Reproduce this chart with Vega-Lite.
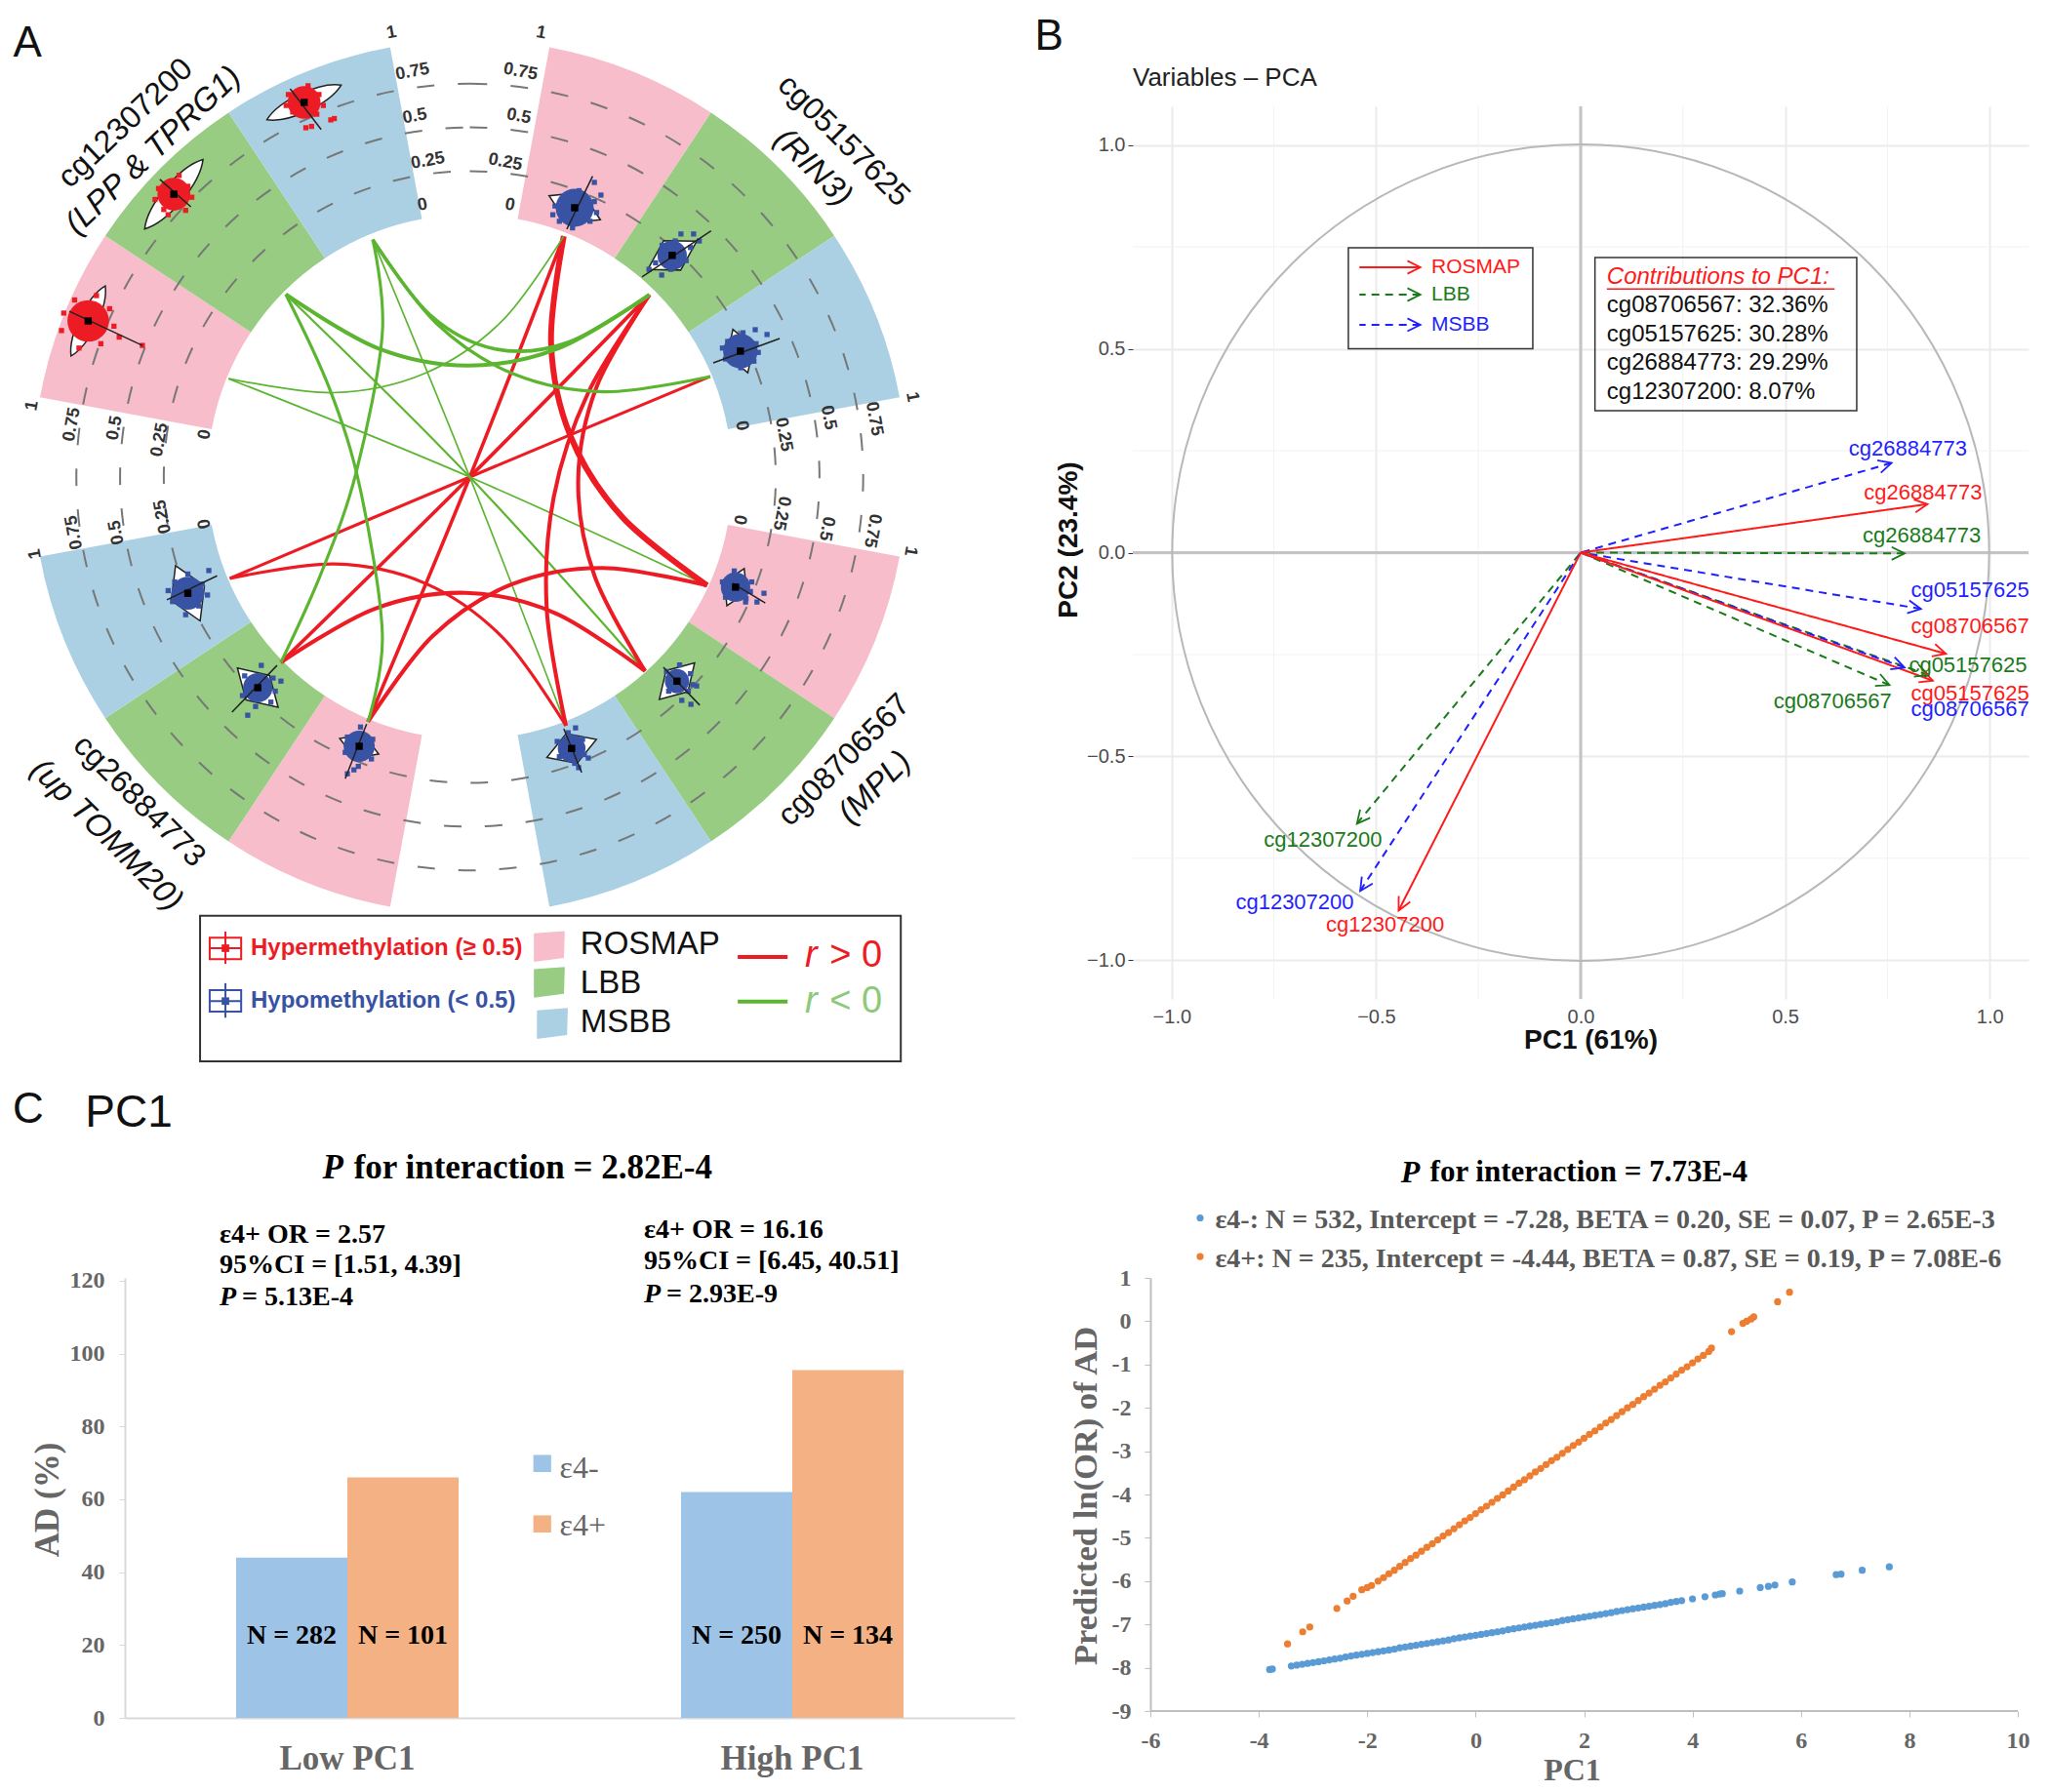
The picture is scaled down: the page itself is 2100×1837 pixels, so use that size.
{"$schema":"https://vega.github.io/schema/vega-lite/v6.json","background":"white","padding":{"left":13,"top":15,"right":0,"bottom":0},"bounds":"flush","align":"none","columns":2,"spacing":{"row":286,"column":121},"resolve":{"scale":{"color":"independent","size":"independent","strokeDash":"independent","strokeWidth":"independent"}},"config":{"view":{"stroke":null},"text":{"font":"Liberation Sans"}},
"datasets":{"clouds":[
{"g":"D-R","meth":"Hyper","x":-0.873,"y":0.357,"spread":48,"len":80,"bearing":26},
{"g":"D-L","meth":"Hyper","x":-0.677,"y":0.647,"spread":38,"len":93,"bearing":40},
{"g":"D-M","meth":"Hyper","x":-0.379,"y":0.857,"spread":38,"len":84,"bearing":65},
{"g":"A-R","meth":"Hypo","x":0.24,"y":0.616,"spread":44,"len":58,"bearing":115},
{"g":"A-L","meth":"Hypo","x":0.463,"y":0.507,"spread":34,"len":58,"bearing":60},
{"g":"A-M","meth":"Hypo","x":0.619,"y":0.288,"spread":40,"len":47,"bearing":161},
{"g":"B-R","meth":"Hypo","x":0.608,"y":-0.252,"spread":34,"len":42,"bearing":25},
{"g":"B-L","meth":"Hypo","x":0.474,"y":-0.467,"spread":28,"len":52,"bearing":44},
{"g":"B-M","meth":"Hypo","x":0.233,"y":-0.621,"spread":32,"len":54,"bearing":70},
{"g":"C-R","meth":"Hypo","x":-0.253,"y":-0.616,"spread":36,"len":43,"bearing":112},
{"g":"C-L","meth":"Hypo","x":-0.485,"y":-0.482,"spread":34,"len":58,"bearing":134},
{"g":"C-M","meth":"Hypo","x":-0.645,"y":-0.266,"spread":38,"len":62,"bearing":156}
]},
"concat":[
{"width":894,"height":915,
"encoding":{"x":{"field":"x","type":"quantitative","scale":{"domain":[-0.789,1.2065],"nice":false,"zero":false},"axis":null},"y":{"field":"y","type":"quantitative","scale":{"domain":[-1.194,0.848],"nice":false,"zero":false},"axis":null}},
"resolve":{"scale":{"color":"independent","size":"independent"}},
"layer":[
{"data":{"values":[
{"x":0,"y":0,"cohort":"ROSMAP","a0":10.5,"a1":33.5},{"x":0,"y":0,"cohort":"LBB","a0":33.5,"a1":56.5},{"x":0,"y":0,"cohort":"MSBB","a0":56.5,"a1":79.5},
{"x":0,"y":0,"cohort":"ROSMAP","a0":100.5,"a1":123.5},{"x":0,"y":0,"cohort":"LBB","a0":123.5,"a1":146.5},{"x":0,"y":0,"cohort":"MSBB","a0":146.5,"a1":169.5},
{"x":0,"y":0,"cohort":"ROSMAP","a0":190.5,"a1":213.5},{"x":0,"y":0,"cohort":"LBB","a0":213.5,"a1":236.5},{"x":0,"y":0,"cohort":"MSBB","a0":236.5,"a1":259.5},
{"x":0,"y":0,"cohort":"ROSMAP","a0":280.5,"a1":303.5},{"x":0,"y":0,"cohort":"LBB","a0":303.5,"a1":326.5},{"x":0,"y":0,"cohort":"MSBB","a0":326.5,"a1":349.5}]},
"mark":{"type":"arc","radius":448,"radius2":269},
"encoding":{"theta":{"field":"a0","type":"quantitative","scale":{"domain":[0,360],"range":[0,6.283185]}},"theta2":{"field":"a1"},"color":{"field":"cohort","type":"nominal","scale":{"domain":["ROSMAP","LBB","MSBB"],"range":["#F7BDCB","#97CC82","#ABD0E4"]},"legend":null}}},
{"data":{"values":[{"x":0,"y":0,"t":0.25}]},"mark":{"type":"arc","radius":313.6,"theta":0,"theta2":6.2832,"fill":"transparent","stroke":"#777777","strokeWidth":2,"strokeDash":[18,24]}},
{"data":{"values":[{"x":0,"y":0,"t":0.5}]},"mark":{"type":"arc","radius":358.4,"theta":0,"theta2":6.2832,"fill":"transparent","stroke":"#777777","strokeWidth":2,"strokeDash":[18,24]}},
{"data":{"values":[{"x":0,"y":0,"t":0.75}]},"mark":{"type":"arc","radius":403.2,"theta":0,"theta2":6.2832,"fill":"transparent","stroke":"#777777","strokeWidth":2,"strokeDash":[18,24]}},
{"data":{"name":"clouds"},"transform":[{"filter":"datum.meth == 'Hyper'"}],"mark":{"type":"point","shape":"M0 -1 C0.3 -0.55 0.3 0.55 0 1 C-0.3 0.55 -0.3 -0.55 0 -1 Z","filled":true,"fill":"white","stroke":"#222222","strokeWidth":1.5,"opacity":1},"encoding":{"size":{"field":"len","type":"quantitative","scale":{"type":"pow","exponent":2,"domain":[0,100],"range":[0,10000]},"legend":null},"angle":{"field":"bearing","type":"quantitative","scale":null}}},
{"data":{"name":"clouds"},"transform":[{"filter":"datum.meth == 'Hypo'"}],"mark":{"type":"point","shape":"M0 -1 L0.6 0 L0 1 L-0.6 0 Z","filled":true,"fill":"white","stroke":"#222222","strokeWidth":1.5,"opacity":1},"encoding":{"size":{"field":"len","type":"quantitative","scale":{"type":"pow","exponent":2,"domain":[0,100],"range":[0,10000]},"legend":null},"angle":{"field":"bearing","type":"quantitative","scale":null}}},
{"data":{"name":"clouds"},"mark":{"type":"point","shape":"circle","filled":true,"opacity":1},"encoding":{"size":{"field":"spread","type":"quantitative","scale":{"type":"pow","exponent":2,"domain":[0,50],"range":[0,1963]},"legend":null},"color":{"field":"meth","type":"nominal","scale":{"domain":["Hyper","Hypo"],"range":["#ED1C24","#3953A4"]},"legend":null}}},
{"data":{"values":[
{"meth":"Hyper","x":-0.824,"y":0.385},{"meth":"Hyper","x":-0.929,"y":0.375},{"meth":"Hyper","x":-0.844,"y":0.305},{"meth":"Hyper","x":-0.904,"y":0.405},{"meth":"Hyper","x":-0.814,"y":0.345},{"meth":"Hyper","x":-0.934,"y":0.335},{"meth":"Hyper","x":-0.854,"y":0.415},{"meth":"Hyper","x":-0.894,"y":0.295},{"meth":"Hyper","x":-0.749,"y":0.301},{"meth":"Hyper","x":-0.802,"y":0.32},
{"meth":"Hyper","x":-0.645,"y":0.665},{"meth":"Hyper","x":-0.712,"y":0.66},{"meth":"Hyper","x":-0.65,"y":0.61},{"meth":"Hyper","x":-0.7,"y":0.612},{"meth":"Hyper","x":-0.636,"y":0.64},{"meth":"Hyper","x":-0.72,"y":0.635},{"meth":"Hyper","x":-0.665,"y":0.69},{"meth":"Hyper","x":-0.69,"y":0.6},
{"meth":"Hyper","x":-0.345,"y":0.875},{"meth":"Hyper","x":-0.415,"y":0.875},{"meth":"Hyper","x":-0.35,"y":0.83},{"meth":"Hyper","x":-0.405,"y":0.835},{"meth":"Hyper","x":-0.335,"y":0.85},{"meth":"Hyper","x":-0.42,"y":0.85},{"meth":"Hyper","x":-0.37,"y":0.895},{"meth":"Hyper","x":-0.318,"y":0.817},{"meth":"Hyper","x":-0.375,"y":0.799},{"meth":"Hyper","x":-0.362,"y":0.802},{"meth":"Hyper","x":-0.31,"y":0.82},
{"meth":"Hypo","x":0.285,"y":0.63},{"meth":"Hypo","x":0.195,"y":0.62},{"meth":"Hypo","x":0.275,"y":0.585},{"meth":"Hypo","x":0.205,"y":0.585},{"meth":"Hypo","x":0.25,"y":0.655},{"meth":"Hypo","x":0.235,"y":0.57},{"meth":"Hypo","x":0.29,"y":0.605},{"meth":"Hypo","x":0.19,"y":0.6},{"meth":"Hypo","x":0.285,"y":0.674},{"meth":"Hypo","x":0.3,"y":0.645},
{"meth":"Hypo","x":0.505,"y":0.525},{"meth":"Hypo","x":0.425,"y":0.49},{"meth":"Hypo","x":0.495,"y":0.495},{"meth":"Hypo","x":0.44,"y":0.53},{"meth":"Hypo","x":0.525,"y":0.54},{"meth":"Hypo","x":0.41,"y":0.475},{"meth":"Hypo","x":0.47,"y":0.54},{"meth":"Hypo","x":0.46,"y":0.475},{"meth":"Hypo","x":0.483,"y":0.556},{"meth":"Hypo","x":0.512,"y":0.556},{"meth":"Hypo","x":0.439,"y":0.462},
{"meth":"Hypo","x":0.655,"y":0.305},{"meth":"Hypo","x":0.585,"y":0.27},{"meth":"Hypo","x":0.65,"y":0.265},{"meth":"Hypo","x":0.59,"y":0.31},{"meth":"Hypo","x":0.66,"y":0.285},{"meth":"Hypo","x":0.578,"y":0.295},{"meth":"Hypo","x":0.625,"y":0.33},{"meth":"Hypo","x":0.62,"y":0.25},{"meth":"Hypo","x":0.653,"y":0.337},{"meth":"Hypo","x":0.68,"y":0.326},
{"meth":"Hypo","x":0.642,"y":-0.262},{"meth":"Hypo","x":0.578,"y":-0.24},{"meth":"Hypo","x":0.632,"y":-0.278},{"meth":"Hypo","x":0.585,"y":-0.275},{"meth":"Hypo","x":0.645,"y":-0.24},{"meth":"Hypo","x":0.605,"y":-0.215},{"meth":"Hypo","x":0.673,"y":-0.266},{"meth":"Hypo","x":0.657,"y":-0.286},{"meth":"Hypo","x":0.631,"y":-0.286},
{"meth":"Hypo","x":0.5,"y":-0.49},{"meth":"Hypo","x":0.45,"y":-0.445},{"meth":"Hypo","x":0.505,"y":-0.45},{"meth":"Hypo","x":0.455,"y":-0.49},{"meth":"Hypo","x":0.51,"y":-0.475},{"meth":"Hypo","x":0.48,"y":-0.43},{"meth":"Hypo","x":0.519,"y":-0.478},{"meth":"Hypo","x":0.506,"y":-0.52},{"meth":"Hypo","x":0.485,"y":-0.511},
{"meth":"Hypo","x":0.262,"y":-0.635},{"meth":"Hypo","x":0.2,"y":-0.605},{"meth":"Hypo","x":0.258,"y":-0.6},{"meth":"Hypo","x":0.205,"y":-0.64},{"meth":"Hypo","x":0.24,"y":-0.655},{"meth":"Hypo","x":0.225,"y":-0.585},{"meth":"Hypo","x":0.242,"y":-0.574},{"meth":"Hypo","x":0.271,"y":-0.643},{"meth":"Hypo","x":0.249,"y":-0.665},
{"meth":"Hypo","x":-0.222,"y":-0.6},{"meth":"Hypo","x":-0.285,"y":-0.63},{"meth":"Hypo","x":-0.225,"y":-0.645},{"meth":"Hypo","x":-0.28,"y":-0.595},{"meth":"Hypo","x":-0.25,"y":-0.572},{"meth":"Hypo","x":-0.255,"y":-0.662},{"meth":"Hypo","x":-0.265,"y":-0.67},{"meth":"Hypo","x":-0.28,"y":-0.679},
{"meth":"Hypo","x":-0.45,"y":-0.46},{"meth":"Hypo","x":-0.52,"y":-0.5},{"meth":"Hypo","x":-0.455,"y":-0.515},{"meth":"Hypo","x":-0.515,"y":-0.455},{"meth":"Hypo","x":-0.445,"y":-0.49},{"meth":"Hypo","x":-0.477,"y":-0.431},{"meth":"Hypo","x":-0.49,"y":-0.525},{"meth":"Hypo","x":-0.508,"y":-0.545},{"meth":"Hypo","x":-0.432,"y":-0.467},
{"meth":"Hypo","x":-0.612,"y":-0.245},{"meth":"Hypo","x":-0.68,"y":-0.285},{"meth":"Hypo","x":-0.62,"y":-0.295},{"meth":"Hypo","x":-0.675,"y":-0.24},{"meth":"Hypo","x":-0.6,"y":-0.27},{"meth":"Hypo","x":-0.645,"y":-0.222},{"meth":"Hypo","x":-0.65,"y":-0.315},{"meth":"Hypo","x":-0.597,"y":-0.214},{"meth":"Hypo","x":-0.69,"y":-0.26}]},
"mark":{"type":"square","size":28,"opacity":1},"encoding":{"color":{"field":"meth","type":"nominal","scale":{"domain":["Hyper","Hypo"],"range":["#ED1C24","#3953A4"]},"legend":null}}},
{"data":{"values":[
{"x":-0.916,"y":0.379,"x2":-0.749,"y2":0.301},{"x":-0.709,"y":0.681,"x2":-0.638,"y2":0.618},{"x":-0.411,"y":0.888,"x2":-0.34,"y2":0.795},{"x":0.281,"y":0.688,"x2":0.222,"y2":0.567},{"x":0.394,"y":0.458,"x2":0.552,"y2":0.563},{"x":0.557,"y":0.261,"x2":0.709,"y2":0.317},{"x":0.601,"y":-0.243,"x2":0.676,"y2":-0.288},{"x":0.443,"y":-0.435,"x2":0.526,"y2":-0.522},{"x":0.215,"y":-0.576,"x2":0.256,"y2":-0.676},{"x":-0.285,"y":-0.69,"x2":-0.236,"y2":-0.565},{"x":-0.544,"y":-0.538,"x2":-0.441,"y2":-0.431},{"x":-0.693,"y":-0.281,"x2":-0.578,"y2":-0.226}]},
"mark":{"type":"rule","color":"#222222","strokeWidth":1.5},"encoding":{"x2":{"field":"x2"},"y2":{"field":"y2"}}},
{"data":{"name":"clouds"},"mark":{"type":"square","size":55,"color":"black","opacity":1}},
{"data":{"values":[
{"id":"AR-CR","o":0,"s":"pos","a":0.35,"x":0.215,"y":0.551},{"id":"AR-CR","o":1,"s":"pos","a":0.35,"x":0,"y":0},{"id":"AR-CR","o":2,"s":"pos","a":0.35,"x":-0.233,"y":-0.56},
{"id":"AL-CL","o":0,"s":"pos","a":0.35,"x":0.411,"y":0.417},{"id":"AL-CL","o":1,"s":"pos","a":0.35,"x":0,"y":0},{"id":"AL-CL","o":2,"s":"pos","a":0.35,"x":-0.432,"y":-0.424},
{"id":"AM-CM","o":0,"s":"pos","a":0.3,"x":0.55,"y":0.23},{"id":"AM-CM","o":1,"s":"pos","a":0.3,"x":0,"y":0},{"id":"AM-CM","o":2,"s":"pos","a":0.3,"x":-0.549,"y":-0.232},
{"id":"DM-BM","o":0,"s":"neg","a":0.15,"x":-0.222,"y":0.543},{"id":"DM-BM","o":1,"s":"neg","a":0.15,"x":0,"y":0},{"id":"DM-BM","o":2,"s":"neg","a":0.15,"x":0.22,"y":-0.569},
{"id":"DL-BL","o":0,"s":"neg","a":0.2,"x":-0.421,"y":0.418},{"id":"DL-BL","o":1,"s":"neg","a":0.2,"x":0,"y":0},{"id":"DL-BL","o":2,"s":"neg","a":0.2,"x":0.401,"y":-0.444},
{"id":"DR-BR","o":0,"s":"neg","a":0.15,"x":-0.552,"y":0.225},{"id":"DR-BR","o":1,"s":"neg","a":0.15,"x":0,"y":0},{"id":"DR-BR","o":2,"s":"neg","a":0.15,"x":0.543,"y":-0.248},
{"id":"AR-BR","o":0,"s":"pos","a":0.6,"x":0.215,"y":0.551},{"id":"AR-BR","o":1,"s":"pos","a":0.6,"x":0.186,"y":0.307},{"id":"AR-BR","o":2,"s":"pos","a":0.6,"x":0.231,"y":0.092},{"id":"AR-BR","o":3,"s":"pos","a":0.6,"x":0.35,"y":-0.093},{"id":"AR-BR","o":4,"s":"pos","a":0.6,"x":0.543,"y":-0.248},
{"id":"AL-BL","o":0,"s":"pos","a":0.4,"x":0.411,"y":0.417},{"id":"AL-BL","o":1,"s":"pos","a":0.4,"x":0.29,"y":0.206},{"id":"AL-BL","o":2,"s":"pos","a":0.4,"x":0.248,"y":-0.008},{"id":"AL-BL","o":3,"s":"pos","a":0.4,"x":0.285,"y":-0.225},{"id":"AL-BL","o":4,"s":"pos","a":0.4,"x":0.401,"y":-0.444},
{"id":"AL-BM","o":0,"s":"pos","a":0.4,"x":0.411,"y":0.417},{"id":"AL-BM","o":1,"s":"pos","a":0.4,"x":0.271,"y":0.193},{"id":"AL-BM","o":2,"s":"pos","a":0.4,"x":0.192,"y":-0.046},{"id":"AL-BM","o":3,"s":"pos","a":0.4,"x":0.176,"y":-0.301},{"id":"AL-BM","o":4,"s":"pos","a":0.4,"x":0.22,"y":-0.569},
{"id":"CL-BL","o":0,"s":"pos","a":0.4,"x":-0.432,"y":-0.424},{"id":"CL-BL","o":1,"s":"pos","a":0.4,"x":-0.219,"y":-0.302},{"id":"CL-BL","o":2,"s":"pos","a":0.4,"x":-0.009,"y":-0.265},{"id":"CL-BL","o":3,"s":"pos","a":0.4,"x":0.197,"y":-0.312},{"id":"CL-BL","o":4,"s":"pos","a":0.4,"x":0.401,"y":-0.444},
{"id":"CR-BR","o":0,"s":"pos","a":0.4,"x":-0.233,"y":-0.56},{"id":"CR-BR","o":1,"s":"pos","a":0.4,"x":-0.085,"y":-0.364},{"id":"CR-BR","o":2,"s":"pos","a":0.4,"x":0.095,"y":-0.246},{"id":"CR-BR","o":3,"s":"pos","a":0.4,"x":0.304,"y":-0.208},{"id":"CR-BR","o":4,"s":"pos","a":0.4,"x":0.543,"y":-0.248},
{"id":"CM-BM","o":0,"s":"pos","a":0.3,"x":-0.549,"y":-0.232},{"id":"CM-BM","o":1,"s":"pos","a":0.3,"x":-0.309,"y":-0.199},{"id":"CM-BM","o":2,"s":"pos","a":0.3,"x":-0.1,"y":-0.244},{"id":"CM-BM","o":3,"s":"pos","a":0.3,"x":0.076,"y":-0.368},{"id":"CM-BM","o":4,"s":"pos","a":0.3,"x":0.22,"y":-0.569},
{"id":"DM-AL","o":0,"s":"neg","a":0.35,"x":-0.222,"y":0.543},{"id":"DM-AL","o":1,"s":"neg","a":0.35,"x":-0.091,"y":0.371},{"id":"DM-AL","o":2,"s":"neg","a":0.35,"x":0.058,"y":0.293},{"id":"DM-AL","o":3,"s":"neg","a":0.35,"x":0.225,"y":0.308},{"id":"DM-AL","o":4,"s":"neg","a":0.35,"x":0.411,"y":0.417},
{"id":"DL-AL","o":0,"s":"neg","a":0.4,"x":-0.421,"y":0.418},{"id":"DL-AL","o":1,"s":"neg","a":0.4,"x":-0.211,"y":0.295},{"id":"DL-AL","o":2,"s":"neg","a":0.4,"x":-0.003,"y":0.255},{"id":"DL-AL","o":3,"s":"neg","a":0.4,"x":0.204,"y":0.295},{"id":"DL-AL","o":4,"s":"neg","a":0.4,"x":0.411,"y":0.417},
{"id":"DM-AM","o":0,"s":"neg","a":0.3,"x":-0.222,"y":0.543},{"id":"DM-AM","o":1,"s":"neg","a":0.3,"x":-0.077,"y":0.352},{"id":"DM-AM","o":2,"s":"neg","a":0.3,"x":0.1,"y":0.236},{"id":"DM-AM","o":3,"s":"neg","a":0.3,"x":0.309,"y":0.195},{"id":"DM-AM","o":4,"s":"neg","a":0.3,"x":0.55,"y":0.23},
{"id":"DR-AR","o":0,"s":"neg","a":0.15,"x":-0.552,"y":0.225},{"id":"DR-AR","o":1,"s":"neg","a":0.15,"x":-0.311,"y":0.193},{"id":"DR-AR","o":2,"s":"neg","a":0.15,"x":-0.103,"y":0.237},{"id":"DR-AR","o":3,"s":"neg","a":0.15,"x":0.073,"y":0.356},{"id":"DR-AR","o":4,"s":"neg","a":0.15,"x":0.215,"y":0.551},
{"id":"DL-CR","o":0,"s":"neg","a":0.3,"x":-0.421,"y":0.418},{"id":"DL-CR","o":1,"s":"neg","a":0.3,"x":-0.32,"y":0.2},{"id":"DL-CR","o":2,"s":"neg","a":0.3,"x":-0.25,"y":-0.03},{"id":"DL-CR","o":3,"s":"neg","a":0.3,"x":-0.2,"y":-0.36},{"id":"DL-CR","o":4,"s":"neg","a":0.3,"x":-0.233,"y":-0.56},
{"id":"DM-CL","o":0,"s":"neg","a":0.3,"x":-0.222,"y":0.543},{"id":"DM-CL","o":1,"s":"neg","a":0.3,"x":-0.2,"y":0.33},{"id":"DM-CL","o":2,"s":"neg","a":0.3,"x":-0.26,"y":0.01},{"id":"DM-CL","o":3,"s":"neg","a":0.3,"x":-0.34,"y":-0.22},{"id":"DM-CL","o":4,"s":"neg","a":0.3,"x":-0.432,"y":-0.424}]},
"mark":{"type":"line","interpolate":"cardinal"},"encoding":{"detail":{"field":"id"},"order":{"field":"o","type":"quantitative"},"strokeWidth":{"field":"a","type":"quantitative","scale":{"domain":[0.1,0.6],"range":[1.2,6]},"legend":null},"color":{"field":"s","type":"nominal","scale":{"domain":["pos","neg"],"range":["#ED1C24","#5CB531"]},"legend":null}}},
{"data":{"values":[
{"t":"1","x":-0.179,"y":1.016,"rot":-10.5},{"t":"0.75","x":-0.131,"y":0.927,"rot":-10.5},{"t":"0.5","x":-0.126,"y":0.825,"rot":-10.5},{"t":"0.25","x":-0.096,"y":0.723,"rot":-10.5},{"t":"0","x":-0.108,"y":0.622,"rot":-10.5},
{"t":"1","x":0.163,"y":1.016,"rot":10.5},{"t":"0.75","x":0.116,"y":0.927,"rot":10.5},{"t":"0.5","x":0.112,"y":0.825,"rot":10.5},{"t":"0.25","x":0.081,"y":0.72,"rot":10.5},{"t":"0","x":0.092,"y":0.622,"rot":10.5},
{"t":"1","x":1.012,"y":0.183,"rot":79.5},{"t":"0.75","x":0.925,"y":0.133,"rot":79.5},{"t":"0.5","x":0.82,"y":0.136,"rot":79.5},{"t":"0.25","x":0.718,"y":0.097,"rot":79.5},{"t":"0","x":0.622,"y":0.117,"rot":79.5},
{"t":"1","x":1.008,"y":-0.17,"rot":100.5},{"t":"0.75","x":0.921,"y":-0.123,"rot":100.5},{"t":"0.5","x":0.816,"y":-0.118,"rot":100.5},{"t":"0.25","x":0.713,"y":-0.083,"rot":100.5},{"t":"0","x":0.617,"y":-0.098,"rot":100.5},
{"t":"1","x":-0.994,"y":-0.176,"rot":-100.5},{"t":"0.75","x":-0.905,"y":-0.127,"rot":-100.5},{"t":"0.5","x":-0.808,"y":-0.127,"rot":-100.5},{"t":"0.25","x":-0.702,"y":-0.091,"rot":-100.5},{"t":"0","x":-0.606,"y":-0.107,"rot":-100.5},
{"t":"1","x":-1.001,"y":0.163,"rot":-79.5},{"t":"0.75","x":-0.91,"y":0.12,"rot":-79.5},{"t":"0.5","x":-0.812,"y":0.112,"rot":-79.5},{"t":"0.25","x":-0.709,"y":0.085,"rot":-79.5},{"t":"0","x":-0.606,"y":0.097,"rot":-79.5}]},
"mark":{"type":"text","fontSize":18,"fontWeight":"bold","color":"#333333","align":"center","baseline":"middle"},"encoding":{"text":{"field":"t","type":"nominal"},"angle":{"field":"rot","type":"quantitative","scale":null}}},
{"data":{"values":[
{"t":"cg12307200","x":-0.788,"y":0.81,"rot":-43.5},{"t":"cg05157625","x":0.856,"y":0.77,"rot":45},{"t":"cg08706567","x":0.856,"y":-0.647,"rot":-45},{"t":"cg26884773","x":-0.756,"y":-0.741,"rot":45}]},
"mark":{"type":"text","fontSize":32,"color":"#111111","align":"center","baseline":"middle"},"encoding":{"text":{"field":"t","type":"nominal"},"angle":{"field":"rot","type":"quantitative","scale":null}}},
{"data":{"values":[
{"t":"(LPP & TPRG1)","x":-0.724,"y":0.747,"rot":-43.5},{"t":"(RIN3)","x":0.785,"y":0.708,"rot":45},{"t":"(MPL)","x":0.927,"y":-0.71,"rot":-45},{"t":"(up TOMM20)","x":-0.831,"y":-0.819,"rot":45}]},
"mark":{"type":"text","fontSize":33,"fontStyle":"italic","color":"#111111","align":"center","baseline":"middle"},"encoding":{"text":{"field":"t","type":"nominal"},"angle":{"field":"rot","type":"quantitative","scale":null}}},
{"data":{"values":[{"t":"A","x":-1.012,"y":0.99}]},"mark":{"type":"text","fontSize":44,"color":"#111111","align":"center","baseline":"middle"},"encoding":{"text":{"field":"t","type":"nominal"}}},
{"data":{"values":[{"x":-0.617,"x2":0.986,"y":-1.004,"y2":-1.337}]},"mark":{"type":"rect","fill":"transparent","stroke":"#333333","strokeWidth":2},"encoding":{"x2":{"field":"x2"},"y2":{"field":"y2"}}},
{"data":{"values":[{"x":-0.595,"x2":-0.523,"y":-1.054,"y2":-1.103}]},"mark":{"type":"rect","fill":"transparent","stroke":"#ED1C24","strokeWidth":2},"encoding":{"x2":{"field":"x2"},"y2":{"field":"y2"}}},
{"data":{"values":[{"x":-0.595,"x2":-0.523,"y":-1.174,"y2":-1.223}]},"mark":{"type":"rect","fill":"transparent","stroke":"#3953A4","strokeWidth":2},"encoding":{"x2":{"field":"x2"},"y2":{"field":"y2"}}},
{"data":{"values":[{"meth":"Hyper","x":-0.559,"x2":-0.559,"y":-1.04,"y2":-1.114},{"meth":"Hyper","x":-0.595,"x2":-0.523,"y":-1.078,"y2":-1.078},{"meth":"Hypo","x":-0.559,"x2":-0.559,"y":-1.158,"y2":-1.237},{"meth":"Hypo","x":-0.595,"x2":-0.523,"y":-1.199,"y2":-1.199}]},"mark":{"type":"rule","strokeWidth":2},"encoding":{"x2":{"field":"x2"},"y2":{"field":"y2"},"detail":{"field":"y"},"color":{"field":"meth","type":"nominal","scale":{"domain":["Hyper","Hypo"],"range":["#ED1C24","#3953A4"]},"legend":null}}},
{"data":{"values":[{"meth":"Hyper","x":-0.559,"y":-1.078},{"meth":"Hypo","x":-0.559,"y":-1.199}]},"mark":{"type":"square","size":60,"opacity":1},"encoding":{"color":{"field":"meth","type":"nominal","scale":{"domain":["Hyper","Hypo"],"range":["#ED1C24","#3953A4"]},"legend":null}}},
{"data":{"values":[{"t":"Hypermethylation (≥ 0.5)","x":-0.501,"y":-1.077}]},"mark":{"type":"text","fontSize":24,"fontWeight":"bold","color":"#ED1C24","align":"left","baseline":"middle"},"encoding":{"text":{"field":"t","type":"nominal"}}},
{"data":{"values":[{"t":"Hypomethylation (< 0.5)","x":-0.501,"y":-1.199}]},"mark":{"type":"text","fontSize":24,"fontWeight":"bold","color":"#3953A4","align":"left","baseline":"middle"},"encoding":{"text":{"field":"t","type":"nominal"}}},
{"data":{"values":[{"cohort":"ROSMAP","x":0.182,"y":-1.074},{"cohort":"LBB","x":0.182,"y":-1.156},{"cohort":"MSBB","x":0.189,"y":-1.25}]},"mark":{"type":"point","shape":"M-1 -0.85 L1 -1 L0.95 0.75 L-1 1 Z","filled":true,"size":1000,"opacity":1},"encoding":{"color":{"field":"cohort","type":"nominal","scale":{"domain":["ROSMAP","LBB","MSBB"],"range":["#F7BDCB","#97CC82","#ABD0E4"]},"legend":null}}},
{"data":{"values":[{"t":"ROSMAP","x":0.253,"y":-1.069},{"t":"LBB","x":0.253,"y":-1.158},{"t":"MSBB","x":0.253,"y":-1.248}]},"mark":{"type":"text","fontSize":33,"color":"#111111","align":"left","baseline":"middle"},"encoding":{"text":{"field":"t","type":"nominal"}}},
{"data":{"values":[{"s":"pos","x":0.613,"x2":0.727,"y":-1.098,"y2":-1.098},{"s":"neg","x":0.613,"x2":0.727,"y":-1.2,"y2":-1.2}]},"mark":{"type":"rule","strokeWidth":4},"encoding":{"x2":{"field":"x2"},"y2":{"field":"y2"},"color":{"field":"s","type":"nominal","scale":{"domain":["pos","neg"],"range":["#ED1C24","#5CB531"]},"legend":null}}},
{"data":{"values":[{"t":"r","x":0.767,"y":-1.096}]},"mark":{"type":"text","fontSize":38,"fontStyle":"italic","color":"#ED1C24","align":"left","baseline":"middle"},"encoding":{"text":{"field":"t","type":"nominal"}}},
{"data":{"values":[{"t":"> 0","x":0.823,"y":-1.096}]},"mark":{"type":"text","fontSize":38,"color":"#ED1C24","align":"left","baseline":"middle"},"encoding":{"text":{"field":"t","type":"nominal"}}},
{"data":{"values":[{"t":"r","x":0.767,"y":-1.201}]},"mark":{"type":"text","fontSize":38,"fontStyle":"italic","color":"#8CC97A","align":"left","baseline":"middle"},"encoding":{"text":{"field":"t","type":"nominal"}}},
{"data":{"values":[{"t":"< 0","x":0.823,"y":-1.201}]},"mark":{"type":"text","fontSize":38,"color":"#8CC97A","align":"left","baseline":"middle"},"encoding":{"text":{"field":"t","type":"nominal"}}}
]},
{"width":918,"height":915,
"encoding":{"x":{"field":"x","type":"quantitative","scale":{"domain":[-1.095,1.095],"nice":false,"zero":false},"axis":{"values":[-1,-0.5,0,0.5,1],"format":".1f","title":"PC1 (61%)","grid":true,"gridColor":"#ebebeb","gridWidth":2,"ticks":false,"domain":false,"labelFlush":false,"labelFont":"Liberation Sans","labelFontSize":20,"labelColor":"#4d4d4d","labelPadding":8,"titleFont":"Liberation Sans","titleFontSize":28,"titleFontWeight":"bold","titleColor":"#111111","titleX":469,"titleY":42,"titleBaseline":"middle"}},"y":{"field":"y","type":"quantitative","scale":{"domain":[-1.095,1.095],"nice":false,"zero":false},"axis":{"values":[-1,-0.5,0,0.5,1],"format":".1f","title":"PC2 (23.4%)","grid":true,"gridColor":"#ebebeb","gridWidth":2,"ticks":true,"tickSize":5,"tickColor":"#333333","domain":false,"labelFlush":false,"labelFont":"Liberation Sans","labelFontSize":20,"labelColor":"#4d4d4d","labelPadding":3,"titleFont":"Liberation Sans","titleFontSize":28,"titleFontWeight":"bold","titleColor":"#111111","titleX":-66,"titleY":444,"titleBaseline":"middle"}}},
"resolve":{"scale":{"color":"independent","strokeDash":"independent"}},
"layer":[
{"data":{"values":[{"x":-0.75,"x2":-0.75,"y":-1.095,"y2":1.095},{"x":-0.25,"x2":-0.25,"y":-1.095,"y2":1.095},{"x":0.25,"x2":0.25,"y":-1.095,"y2":1.095},{"x":0.75,"x2":0.75,"y":-1.095,"y2":1.095},{"x":-1.095,"x2":1.095,"y":-0.75,"y2":-0.75},{"x":-1.095,"x2":1.095,"y":-0.25,"y2":-0.25},{"x":-1.095,"x2":1.095,"y":0.25,"y2":0.25},{"x":-1.095,"x2":1.095,"y":0.75,"y2":0.75}]},"mark":{"type":"rule","color":"#f2f2f2","strokeWidth":1},"encoding":{"x2":{"field":"x2"},"y2":{"field":"y2"}}},
{"data":{"values":[{"x":0,"x2":0,"y":-1.095,"y2":1.095},{"x":-1.095,"x2":1.095,"y":0,"y2":0}]},"mark":{"type":"rule","color":"#c4c4c4","strokeWidth":3},"encoding":{"x2":{"field":"x2"},"y2":{"field":"y2"}}},
{"data":{"values":[{"x":0,"y":0}]},"mark":{"type":"arc","radius":418.5,"theta":0,"theta2":6.2832,"fill":"transparent","stroke":"#b8b8b8","strokeWidth":2}},
{"data":{"values":[
{"ds":"LBB","v":"cg26884773","x0":0,"y0":0,"x":0.792,"y":-0.002,"b":90.1},{"ds":"LBB","v":"cg05157625","x0":0,"y0":0,"x":0.85,"y":-0.3,"b":109.4},{"ds":"LBB","v":"cg08706567","x0":0,"y0":0,"x":0.755,"y":-0.325,"b":113.3},{"ds":"LBB","v":"cg12307200","x0":0,"y0":0,"x":-0.547,"y":-0.665,"b":219.4},
{"ds":"MSBB","v":"cg26884773","x0":0,"y0":0,"x":0.76,"y":0.22,"b":73.9},{"ds":"MSBB","v":"cg05157625","x0":0,"y0":0,"x":0.832,"y":-0.138,"b":99.4},{"ds":"MSBB","v":"cg08706567","x0":0,"y0":0,"x":0.792,"y":-0.282,"b":109.6},{"ds":"MSBB","v":"cg12307200","x0":0,"y0":0,"x":-0.539,"y":-0.83,"b":213},
{"ds":"ROSMAP","v":"cg26884773","x0":0,"y0":0,"x":0.848,"y":0.119,"b":82},{"ds":"ROSMAP","v":"cg08706567","x0":0,"y0":0,"x":0.893,"y":-0.248,"b":105.5},{"ds":"ROSMAP","v":"cg05157625","x0":0,"y0":0,"x":0.861,"y":-0.314,"b":110},{"ds":"ROSMAP","v":"cg12307200","x0":0,"y0":0,"x":-0.445,"y":-0.878,"b":206.9},
{"ds":"ROSMAP","v":"key","x0":-0.541,"y0":0.7,"x":-0.392,"y":0.7,"b":90},{"ds":"LBB","v":"key","x0":-0.541,"y0":0.633,"x":-0.392,"y":0.633,"b":90},{"ds":"MSBB","v":"key","x0":-0.541,"y0":0.559,"x":-0.392,"y":0.559,"b":90}]},
"layer":[
{"mark":{"type":"rule","strokeWidth":2},"encoding":{"x2":{"field":"x0"},"y2":{"field":"y0"},"color":{"field":"ds","type":"nominal","scale":{"domain":["ROSMAP","LBB","MSBB"],"range":["#FF1A1A","#1A7A1A","#1F1FFF"]},"legend":null},"strokeDash":{"field":"ds","type":"nominal","scale":{"domain":["ROSMAP","LBB","MSBB"],"range":[[1,0],[8,6],[8,6]]},"legend":null}}},
{"mark":{"type":"point","shape":"M-0.5 1 L0 0 L0.5 1","filled":false,"size":700,"strokeWidth":1.8,"opacity":1},"encoding":{"color":{"field":"ds","type":"nominal","scale":{"domain":["ROSMAP","LBB","MSBB"],"range":["#FF1A1A","#1A7A1A","#1F1FFF"]},"legend":null},"angle":{"field":"b","type":"quantitative","scale":null}}}
]},
{"data":{"values":[
{"ds":"MSBB","t":"cg26884773","x":0.8,"y":0.256},{"ds":"ROSMAP","t":"cg26884773","x":0.837,"y":0.147},{"ds":"LBB","t":"cg26884773","x":0.834,"y":0.043},{"ds":"MSBB","t":"cg05157625","x":0.952,"y":-0.093},{"ds":"ROSMAP","t":"cg08706567","x":0.952,"y":-0.181},{"ds":"LBB","t":"cg05157625","x":0.947,"y":-0.277},{"ds":"ROSMAP","t":"cg05157625","x":0.952,"y":-0.346},{"ds":"MSBB","t":"cg08706567","x":0.952,"y":-0.385},{"ds":"LBB","t":"cg08706567","x":0.616,"y":-0.365},{"ds":"LBB","t":"cg12307200","x":-0.63,"y":-0.705},{"ds":"MSBB","t":"cg12307200","x":-0.699,"y":-0.857},{"ds":"ROSMAP","t":"cg12307200","x":-0.478,"y":-0.913}]},
"mark":{"type":"text","fontSize":22,"align":"center","baseline":"middle","clip":true},"encoding":{"text":{"field":"t","type":"nominal"},"color":{"field":"ds","type":"nominal","scale":{"domain":["ROSMAP","LBB","MSBB"],"range":["#FF1A1A","#1A7A1A","#1F1FFF"]},"legend":null}}},
{"data":{"values":[{"ds":"ROSMAP","t":"ROSMAP","x":-0.365,"y":0.7},{"ds":"LBB","t":"LBB","x":-0.365,"y":0.633},{"ds":"MSBB","t":"MSBB","x":-0.365,"y":0.559}]},"mark":{"type":"text","fontSize":21,"align":"left","baseline":"middle"},"encoding":{"text":{"field":"t","type":"nominal"},"color":{"field":"ds","type":"nominal","scale":{"domain":["ROSMAP","LBB","MSBB"],"range":["#FF1A1A","#1A7A1A","#1F1FFF"]},"legend":null}}},
{"data":{"values":[{"x":-0.568,"x2":-0.117,"y":0.748,"y2":0.5},{"x":0.035,"x2":0.675,"y":0.724,"y2":0.348}]},"mark":{"type":"rect","fill":"transparent","stroke":"#333333","strokeWidth":1.5},"encoding":{"x2":{"field":"x2"},"y2":{"field":"y2"}}},
{"data":{"values":[{"x":0.064,"x2":0.621,"y":0.647,"y2":0.647}]},"mark":{"type":"rule","color":"#FF1A1A","strokeWidth":1.5},"encoding":{"x2":{"field":"x2"},"y2":{"field":"y2"}}},
{"data":{"values":[{"t":"Contributions to PC1:","x":0.064,"y":0.676}]},"mark":{"type":"text","fontSize":24,"fontStyle":"italic","color":"#FF1A1A","align":"left","baseline":"middle"},"encoding":{"text":{"field":"t","type":"nominal"}}},
{"data":{"values":[{"t":"cg08706567: 32.36%","x":0.064,"y":0.607},{"t":"cg05157625: 30.28%","x":0.064,"y":0.535},{"t":"cg26884773: 29.29%","x":0.064,"y":0.465},{"t":"cg12307200: 8.07%","x":0.064,"y":0.393}]},"mark":{"type":"text","fontSize":24,"color":"#111111","align":"left","baseline":"middle"},"encoding":{"text":{"field":"t","type":"nominal"}}},
{"data":{"values":[{"t":"Variables – PCA","x":-1.095,"y":1.165}]},"mark":{"type":"text","fontSize":26,"color":"#222222","align":"left","baseline":"middle"},"encoding":{"text":{"field":"t","type":"nominal"}}},
{"data":{"values":[{"t":"B","x":-1.3,"y":1.266}]},"mark":{"type":"text","fontSize":44,"color":"#111111","align":"center","baseline":"middle"},"encoding":{"text":{"field":"t","type":"nominal"}}}
]},
{"width":912,"height":451,
"encoding":{"y":{"field":"y","type":"quantitative","scale":{"domain":[0,120.8],"nice":false,"zero":false},"axis":{"values":[0,20,40,60,80,100,120],"title":"AD (%)","grid":false,"domainColor":"#d9d9d9","domainWidth":2,"tickColor":"#d9d9d9","tickSize":6,"labelFlush":false,"labelFont":"Liberation Serif","labelFontSize":24,"labelFontWeight":"bold","labelColor":"#666666","labelPadding":15,"titleFont":"Liberation Serif","titleFontSize":35,"titleFontWeight":"bold","titleColor":"#666666","titleX":-80,"titleY":227,"titleBaseline":"middle"}}},
"resolve":{"scale":{"x":"independent"}},
"layer":[
{"data":{"values":[{"cat":"Low PC1","g":"ε4-","y":44,"n":"N = 282"},{"cat":"Low PC1","g":"ε4+","y":66,"n":"N = 101"},{"cat":"High PC1","g":"ε4-","y":62,"n":"N = 250"},{"cat":"High PC1","g":"ε4+","y":95.5,"n":"N = 134"}]},
"encoding":{"x":{"field":"cat","type":"nominal","sort":["Low PC1","High PC1"],"scale":{"domain":["Low PC1","High PC1"],"paddingInner":0,"paddingOuter":0},"axis":{"title":null,"labelAngle":0,"ticks":false,"domainColor":"#d9d9d9","domainWidth":2,"labelFont":"Liberation Serif","labelFontSize":35,"labelFontWeight":"bold","labelColor":"#666666","labelPadding":24}},"xOffset":{"field":"g","type":"nominal","scale":{"domain":["ε4-","ε4+"],"paddingInner":0,"paddingOuter":1}}},
"layer":[
{"mark":{"type":"bar"},"encoding":{"color":{"field":"g","type":"nominal","scale":{"domain":["ε4-","ε4+"],"range":["#9DC3E6","#F4B183"]},"legend":null}}},
{"mark":{"type":"text","font":"Liberation Serif","fontSize":28,"fontWeight":"bold","color":"#000000","baseline":"middle"},"encoding":{"y":{"datum":22.5},"text":{"field":"n","type":"nominal"}}}
]},
{"encoding":{"x":{"field":"x","type":"quantitative","scale":{"domain":[0,1],"nice":false,"zero":false},"axis":null}},
"layer":[
{"data":{"values":[{"t":"C","x":-0.1086,"y":166.9}]},"mark":{"type":"text","fontSize":44,"color":"#111111","align":"center","baseline":"middle"},"encoding":{"text":{"field":"t","type":"nominal"}}},
{"data":{"values":[{"t":"PC1","x":-0.0447,"y":166.1}]},"mark":{"type":"text","fontSize":46,"color":"#111111","align":"left","baseline":"middle"},"encoding":{"text":{"field":"t","type":"nominal"}}},
{"data":{"values":[{"t":"P","x":0.1064,"y":115.4},{"t":"P","x":0.5833,"y":116.3}]},"mark":{"type":"text","font":"Liberation Serif","fontSize":28,"fontWeight":"bold","fontStyle":"italic","color":"#000000","align":"left","baseline":"middle"},"encoding":{"text":{"field":"t","type":"nominal"}}},
{"data":{"values":[{"t":"P","x":0.222,"y":151.1}]},"mark":{"type":"text","font":"Liberation Serif","fontSize":35,"fontWeight":"bold","fontStyle":"italic","color":"#000000","align":"left","baseline":"middle"},"encoding":{"text":{"field":"t","type":"nominal"}}},
{"data":{"values":[{"t":"for interaction = 2.82E-4","x":0.2573,"y":151.1}]},"mark":{"type":"text","font":"Liberation Serif","fontSize":35,"fontWeight":"bold","color":"#000000","align":"left","baseline":"middle"},"encoding":{"text":{"field":"t","type":"nominal"}}},
{"data":{"values":[{"t":"ε4+ OR = 2.57","x":0.1064,"y":132.7},{"t":"95%CI = [1.51, 4.39]","x":0.1064,"y":124.4},{"t":"= 5.13E-4","x":0.1316,"y":115.4},{"t":"ε4+ OR = 16.16","x":0.5833,"y":134},{"t":"95%CI = [6.45, 40.51]","x":0.5833,"y":125.4},{"t":"= 2.93E-9","x":0.6086,"y":116.3}]},"mark":{"type":"text","font":"Liberation Serif","fontSize":28,"fontWeight":"bold","color":"#000000","align":"left","baseline":"middle"},"encoding":{"text":{"field":"t","type":"nominal"}}},
{"data":{"values":[{"g":"ε4-","x":0.459,"x2":0.479,"y":72.2,"y2":67.5},{"g":"ε4+","x":0.459,"x2":0.479,"y":55.6,"y2":50.9}]},"mark":{"type":"rect"},"encoding":{"x2":{"field":"x2"},"y2":{"field":"y2"},"color":{"field":"g","type":"nominal","scale":{"domain":["ε4-","ε4+"],"range":["#9DC3E6","#F4B183"]},"legend":null}}},
{"data":{"values":[{"t":"ε4-","x":0.4886,"y":68.6},{"t":"ε4+","x":0.4886,"y":52.9}]},"mark":{"type":"text","font":"Liberation Serif","fontSize":32,"color":"#666666","align":"left","baseline":"middle"},"encoding":{"text":{"field":"t","type":"nominal"}}}
]}
]},
{"width":907,"height":444,
"encoding":{"x":{"field":"x","type":"quantitative","scale":{"domain":[-6.324,10],"nice":false,"zero":false},"axis":{"values":[-6,-4,-2,0,2,4,6,8,10],"labelExpr":"datum.value","title":"PC1","grid":false,"domain":false,"tickColor":"#bfbfbf","tickSize":6,"labelFlush":false,"labelFont":"Liberation Serif","labelFontSize":24,"labelFontWeight":"bold","labelColor":"#666666","labelPadding":12,"titleFont":"Liberation Serif","titleFontSize":32,"titleFontWeight":"bold","titleColor":"#666666","titleX":450,"titleY":60,"titleBaseline":"middle"}},"y":{"field":"y","type":"quantitative","scale":{"domain":[-9,1],"nice":false,"zero":false},"axis":{"values":[-9,-8,-7,-6,-5,-4,-3,-2,-1,0,1],"labelExpr":"datum.value","title":"Predicted ln(OR) of AD","grid":false,"offset":-18,"domainColor":"#bfbfbf","domainWidth":2,"tickColor":"#bfbfbf","tickSize":6,"labelFlush":false,"labelFont":"Liberation Serif","labelFontSize":24,"labelFontWeight":"bold","labelColor":"#666666","labelPadding":14,"titleFont":"Liberation Serif","titleFontSize":34.5,"titleFontWeight":"bold","titleColor":"#666666","titleX":-66,"titleY":223,"titleBaseline":"middle"}}},
"layer":[
{"data":{"values":[{"x":-6,"x2":10,"y":-9,"y2":-9}]},"mark":{"type":"rule","color":"#bfbfbf","strokeWidth":2},"encoding":{"x2":{"field":"x2"},"y2":{"field":"y2"}}},
{"data":{"values":[
{"g":"e4-","x":-3.8,"y":-8.04},{"g":"e4-","x":-3.75,"y":-8.03},{"g":"e4-","x":-3.4,"y":-7.96},{"g":"e4-","x":-3.3,"y":-7.94},{"g":"e4-","x":-3.2,"y":-7.92},{"g":"e4-","x":-3.1,"y":-7.9},{"g":"e4-","x":-3,"y":-7.88},{"g":"e4-","x":-2.9,"y":-7.86},{"g":"e4-","x":-2.8,"y":-7.84},{"g":"e4-","x":-2.7,"y":-7.82},{"g":"e4-","x":-2.6,"y":-7.8},{"g":"e4-","x":-2.5,"y":-7.78},{"g":"e4-","x":-2.4,"y":-7.75},{"g":"e4-","x":-2.3,"y":-7.73},{"g":"e4-","x":-2.2,"y":-7.71},{"g":"e4-","x":-2.1,"y":-7.69},{"g":"e4-","x":-2,"y":-7.67},{"g":"e4-","x":-1.9,"y":-7.65},{"g":"e4-","x":-1.8,"y":-7.63},{"g":"e4-","x":-1.7,"y":-7.61},{"g":"e4-","x":-1.6,"y":-7.59},{"g":"e4-","x":-1.5,"y":-7.57},{"g":"e4-","x":-1.4,"y":-7.54},{"g":"e4-","x":-1.3,"y":-7.52},{"g":"e4-","x":-1.2,"y":-7.5},{"g":"e4-","x":-1.1,"y":-7.48},{"g":"e4-","x":-1,"y":-7.46},{"g":"e4-","x":-0.9,"y":-7.44},{"g":"e4-","x":-0.8,"y":-7.42},{"g":"e4-","x":-0.7,"y":-7.4},{"g":"e4-","x":-0.6,"y":-7.38},{"g":"e4-","x":-0.5,"y":-7.36},{"g":"e4-","x":-0.4,"y":-7.33},{"g":"e4-","x":-0.3,"y":-7.31},{"g":"e4-","x":-0.2,"y":-7.29},{"g":"e4-","x":-0.1,"y":-7.27},{"g":"e4-","x":0,"y":-7.25},{"g":"e4-","x":0.1,"y":-7.23},{"g":"e4-","x":0.2,"y":-7.21},{"g":"e4-","x":0.3,"y":-7.19},{"g":"e4-","x":0.4,"y":-7.17},{"g":"e4-","x":0.5,"y":-7.15},{"g":"e4-","x":0.6,"y":-7.12},{"g":"e4-","x":0.7,"y":-7.1},{"g":"e4-","x":0.8,"y":-7.08},{"g":"e4-","x":0.9,"y":-7.06},{"g":"e4-","x":1,"y":-7.04},{"g":"e4-","x":1.1,"y":-7.02},{"g":"e4-","x":1.2,"y":-7},{"g":"e4-","x":1.3,"y":-6.98},{"g":"e4-","x":1.4,"y":-6.96},{"g":"e4-","x":1.5,"y":-6.94},{"g":"e4-","x":1.6,"y":-6.91},{"g":"e4-","x":1.7,"y":-6.89},{"g":"e4-","x":1.8,"y":-6.87},{"g":"e4-","x":1.9,"y":-6.85},{"g":"e4-","x":2,"y":-6.83},{"g":"e4-","x":2.1,"y":-6.81},{"g":"e4-","x":2.2,"y":-6.79},{"g":"e4-","x":2.3,"y":-6.77},{"g":"e4-","x":2.4,"y":-6.75},{"g":"e4-","x":2.5,"y":-6.73},{"g":"e4-","x":2.6,"y":-6.7},{"g":"e4-","x":2.7,"y":-6.68},{"g":"e4-","x":2.8,"y":-6.66},{"g":"e4-","x":2.9,"y":-6.64},{"g":"e4-","x":3,"y":-6.62},{"g":"e4-","x":3.1,"y":-6.6},{"g":"e4-","x":3.2,"y":-6.58},{"g":"e4-","x":3.3,"y":-6.56},{"g":"e4-","x":3.4,"y":-6.54},{"g":"e4-","x":3.5,"y":-6.52},{"g":"e4-","x":3.6,"y":-6.49},{"g":"e4-","x":3.7,"y":-6.47},{"g":"e4-","x":3.8,"y":-6.45},{"g":"e4-","x":4,"y":-6.41},{"g":"e4-","x":4.23,"y":-6.36},{"g":"e4-","x":4.42,"y":-6.32},{"g":"e4-","x":4.5,"y":-6.3},{"g":"e4-","x":4.55,"y":-6.29},{"g":"e4-","x":4.87,"y":-6.23},{"g":"e4-","x":5.25,"y":-6.15},{"g":"e4-","x":5.4,"y":-6.12},{"g":"e4-","x":5.52,"y":-6.09},{"g":"e4-","x":5.84,"y":-6.02},{"g":"e4-","x":6.65,"y":-5.85},{"g":"e4-","x":6.74,"y":-5.84},{"g":"e4-","x":7.13,"y":-5.75},{"g":"e4-","x":7.63,"y":-5.67},
{"g":"e4+","x":-3.47,"y":-7.45},{"g":"e4+","x":-3.19,"y":-7.17},{"g":"e4+","x":-3.06,"y":-7.06},{"g":"e4+","x":-2.56,"y":-6.63},{"g":"e4+","x":-2.37,"y":-6.46},{"g":"e4+","x":-2.26,"y":-6.35},{"g":"e4+","x":-2.1,"y":-6.2},{"g":"e4+","x":-2,"y":-6.15},{"g":"e4+","x":-1.92,"y":-6.1},{"g":"e4+","x":-1.8,"y":-6},{"g":"e4+","x":-1.7,"y":-5.92},{"g":"e4+","x":-1.6,"y":-5.83},{"g":"e4+","x":-1.5,"y":-5.75},{"g":"e4+","x":-1.4,"y":-5.66},{"g":"e4+","x":-1.3,"y":-5.57},{"g":"e4+","x":-1.2,"y":-5.48},{"g":"e4+","x":-1.1,"y":-5.4},{"g":"e4+","x":-1,"y":-5.31},{"g":"e4+","x":-0.9,"y":-5.22},{"g":"e4+","x":-0.8,"y":-5.14},{"g":"e4+","x":-0.7,"y":-5.05},{"g":"e4+","x":-0.6,"y":-4.96},{"g":"e4+","x":-0.5,"y":-4.88},{"g":"e4+","x":-0.4,"y":-4.79},{"g":"e4+","x":-0.3,"y":-4.7},{"g":"e4+","x":-0.2,"y":-4.61},{"g":"e4+","x":-0.1,"y":-4.53},{"g":"e4+","x":0,"y":-4.44},{"g":"e4+","x":0.1,"y":-4.35},{"g":"e4+","x":0.2,"y":-4.27},{"g":"e4+","x":0.3,"y":-4.18},{"g":"e4+","x":0.4,"y":-4.09},{"g":"e4+","x":0.5,"y":-4.01},{"g":"e4+","x":0.6,"y":-3.92},{"g":"e4+","x":0.7,"y":-3.83},{"g":"e4+","x":0.8,"y":-3.74},{"g":"e4+","x":0.9,"y":-3.66},{"g":"e4+","x":1,"y":-3.57},{"g":"e4+","x":1.1,"y":-3.48},{"g":"e4+","x":1.2,"y":-3.4},{"g":"e4+","x":1.3,"y":-3.31},{"g":"e4+","x":1.4,"y":-3.22},{"g":"e4+","x":1.5,"y":-3.14},{"g":"e4+","x":1.6,"y":-3.05},{"g":"e4+","x":1.7,"y":-2.96},{"g":"e4+","x":1.8,"y":-2.87},{"g":"e4+","x":1.9,"y":-2.79},{"g":"e4+","x":2,"y":-2.7},{"g":"e4+","x":2.1,"y":-2.61},{"g":"e4+","x":2.2,"y":-2.53},{"g":"e4+","x":2.3,"y":-2.44},{"g":"e4+","x":2.4,"y":-2.35},{"g":"e4+","x":2.5,"y":-2.27},{"g":"e4+","x":2.6,"y":-2.18},{"g":"e4+","x":2.7,"y":-2.09},{"g":"e4+","x":2.8,"y":-2},{"g":"e4+","x":2.9,"y":-1.92},{"g":"e4+","x":3,"y":-1.83},{"g":"e4+","x":3.1,"y":-1.74},{"g":"e4+","x":3.2,"y":-1.66},{"g":"e4+","x":3.3,"y":-1.57},{"g":"e4+","x":3.4,"y":-1.48},{"g":"e4+","x":3.5,"y":-1.4},{"g":"e4+","x":3.6,"y":-1.31},{"g":"e4+","x":3.7,"y":-1.22},{"g":"e4+","x":3.8,"y":-1.13},{"g":"e4+","x":3.9,"y":-1.05},{"g":"e4+","x":4,"y":-0.96},{"g":"e4+","x":4.1,"y":-0.87},{"g":"e4+","x":4.2,"y":-0.79},{"g":"e4+","x":4.3,"y":-0.7},{"g":"e4+","x":4.35,"y":-0.62},{"g":"e4+","x":4.72,"y":-0.24},{"g":"e4+","x":4.93,"y":-0.05},{"g":"e4+","x":5,"y":0},{"g":"e4+","x":5.08,"y":0.05},{"g":"e4+","x":5.13,"y":0.1},{"g":"e4+","x":5.57,"y":0.45},{"g":"e4+","x":5.79,"y":0.67},
{"g":"e4-","x":-5.082,"y":2.385},{"g":"e4+","x":-5.082,"y":1.495}]},
"mark":{"type":"circle","size":52,"opacity":1},"encoding":{"color":{"field":"g","type":"nominal","scale":{"domain":["e4-","e4+"],"range":["#5B9BD5","#ED7D31"]},"legend":null}}},
{"data":{"values":[{"t":"ε4-: N = 532, Intercept = -7.28, BETA = 0.20, SE = 0.07, P = 2.65E-3","x":-4.805,"y":2.336},{"t":"ε4+: N = 235, Intercept = -4.44, BETA = 0.87, SE = 0.19, P = 7.08E-6","x":-4.805,"y":1.432}]},"mark":{"type":"text","font":"Liberation Serif","fontSize":28,"fontWeight":"bold","color":"#595959","align":"left","baseline":"middle"},"encoding":{"text":{"field":"t","type":"nominal"}}},
{"data":{"values":[{"t":"P","x":-1.38,"y":3.435}]},"mark":{"type":"text","font":"Liberation Serif","fontSize":32,"fontWeight":"bold","fontStyle":"italic","color":"#000000","align":"left","baseline":"middle"},"encoding":{"text":{"field":"t","type":"nominal"}}},
{"data":{"values":[{"t":"for interaction = 7.73E-4","x":-0.842,"y":3.435}]},"mark":{"type":"text","font":"Liberation Serif","fontSize":31,"fontWeight":"bold","color":"#000000","align":"left","baseline":"middle"},"encoding":{"text":{"field":"t","type":"nominal"}}}
]}
]}
